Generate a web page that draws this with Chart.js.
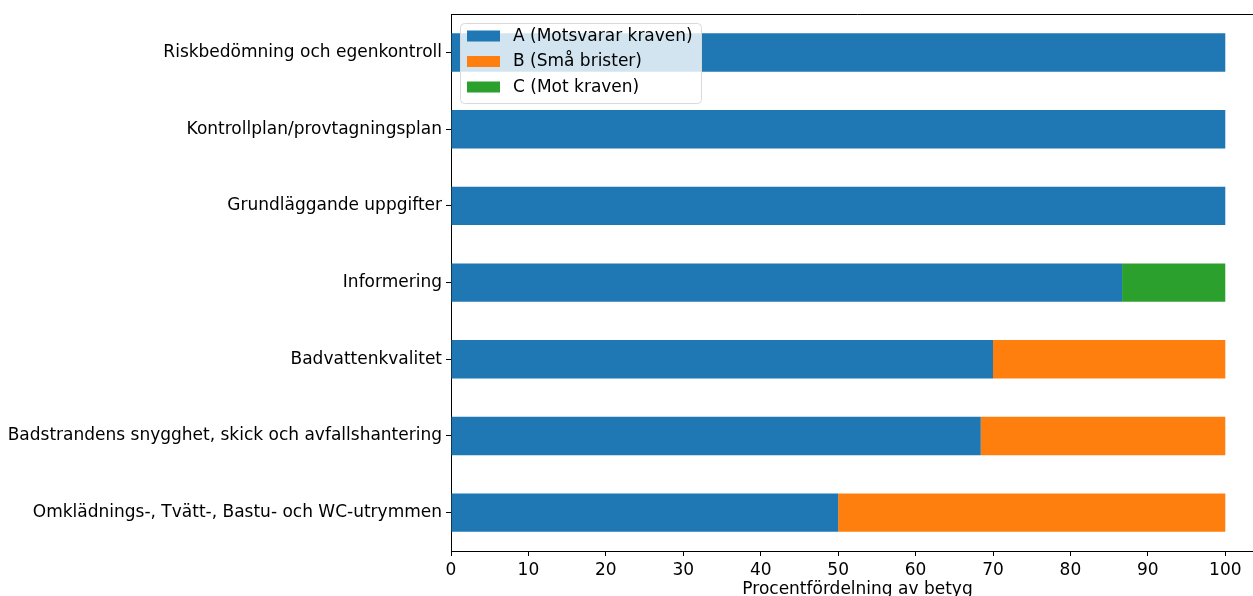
<!DOCTYPE html>
<html>
<head>
<meta charset="utf-8">
<script src="https://cdn.jsdelivr.net/npm/chart.js@4/dist/chart.umd.min.js"></script>
<style>
  html, body { margin: 0; padding: 0; background: #fff; overflow: hidden; }
  #wrap { position: relative; width: 1265px; height: 596px; }
</style>
</head>
<body>
<div id="wrap"><canvas id="c"></canvas></div>
<script>
// Inspection areas, top to bottom
const categories = [
  'Riskbedömning och egenkontroll',
  'Kontrollplan/provtagningsplan',
  'Grundläggande uppgifter',
  'Informering',
  'Badvattenkvalitet',
  'Badstrandens snygghet, skick och avfallshantering',
  'Omklädnings-, Tvätt-, Bastu- och WC-utrymmen'
];
// Percentage share of each grade per area
const gradeA = [100, 100, 100, 86.67, 70, 68.42, 50];
const gradeB = [0, 0, 0, 0, 30, 31.58, 50];
const gradeC = [0, 0, 0, 13.33, 0, 0, 0];
const seriesNames = ['A (Motsvarar kraven)', 'B (Små brister)', 'C (Mot kraven)'];
const xTicks = [0, 10, 20, 30, 40, 50, 60, 70, 80, 90, 100];
const xTitle = 'Procentfördelning av betyg';

const colors = ['#1f77b4', '#ff7f0e', '#2ca02c'];
const FONT = "'DejaVu Sans', sans-serif";

Chart.defaults.font.family = FONT;
Chart.defaults.color = '#000';

// Top/right frame lines
const framePlugin = {
  id: 'frame',
  afterDraw(chart) {
    const { ctx, chartArea: a } = chart;
    ctx.save();
    ctx.strokeStyle = '#000';
    ctx.lineWidth = 1;
    ctx.beginPath();
    ctx.moveTo(a.left, Math.round(a.top) + 0.5);
    ctx.lineTo(a.right, Math.round(a.top) + 0.5);
    ctx.moveTo(Math.round(a.right) - 0.5, a.top);
    ctx.lineTo(Math.round(a.right) - 0.5, a.bottom);
    ctx.stroke();
    ctx.restore();
  }
};

// Legend box in the upper-left corner of the plot
const legendBox = {
  id: 'legendBox',
  afterDraw(chart) {
    const { ctx, chartArea: a } = chart;
    const x = Math.round(a.left) + 9, y = Math.round(a.top) + 9, w = 241, h = 80;
    ctx.save();
    ctx.beginPath();
    ctx.roundRect(x + 0.5, y + 0.5, w, h, 4);
    ctx.fillStyle = 'rgba(255,255,255,0.8)';
    ctx.fill();
    ctx.strokeStyle = '#d9d9d9';
    ctx.lineWidth = 1;
    ctx.stroke();
    ctx.font = '17px ' + FONT;
    ctx.textBaseline = 'middle';
    chart.data.datasets.forEach((ds, i) => {
      const cy = y + 13.5 + i * 25.5;
      ctx.fillStyle = ds.backgroundColor;
      ctx.fillRect(x + 7, cy - 6, 33, 11);
      ctx.fillStyle = '#000';
      ctx.fillText(ds.label, x + 53, cy);
    });
    ctx.restore();
  }
};

new Chart(document.getElementById('c'), {
  type: 'bar',
  data: {
    labels: categories,
    datasets: [
      { label: seriesNames[0], data: gradeA, backgroundColor: colors[0] },
      { label: seriesNames[1], data: gradeB, backgroundColor: colors[1] },
      { label: seriesNames[2], data: gradeC, backgroundColor: colors[2] }
    ]
  },
  options: {
    indexAxis: 'y',
    responsive: true,
    maintainAspectRatio: false,
    animation: false,
    layout: { padding: { top: 12, left: 0, right: 1, bottom: 0 } },
    datasets: { bar: { barPercentage: 0.5, categoryPercentage: 1, borderWidth: 0 } },
    plugins: { legend: { display: false }, tooltip: { enabled: false } },
    scales: {
      x: {
        stacked: true,
        min: 0,
        max: 105,
        afterBuildTicks(scale) { scale.ticks = xTicks.map(v => ({ value: v })); },
        afterFit(scale) { scale.height = 45; },
        grid: { drawOnChartArea: false, drawTicks: true, tickLength: 5, color: '#000' },
        border: { display: true, color: '#000', width: 1 },
        ticks: { font: { size: 17 }, padding: 4, maxRotation: 0, autoSkip: false },
        title: { display: true, text: xTitle, font: { size: 17 }, padding: { top: 0, bottom: -4 } }
      },
      y: {
        stacked: true,
        offset: true,
        afterFit(scale) { scale.width = 451; },
        grid: { offset: false, drawOnChartArea: false, drawTicks: true, tickLength: 5, color: '#000' },
        border: { display: true, color: '#000', width: 1 },
        ticks: { font: { size: 17 }, padding: 4, autoSkip: false }
      }
    }
  },
  plugins: [framePlugin, legendBox]
});
</script>
</body>
</html>
